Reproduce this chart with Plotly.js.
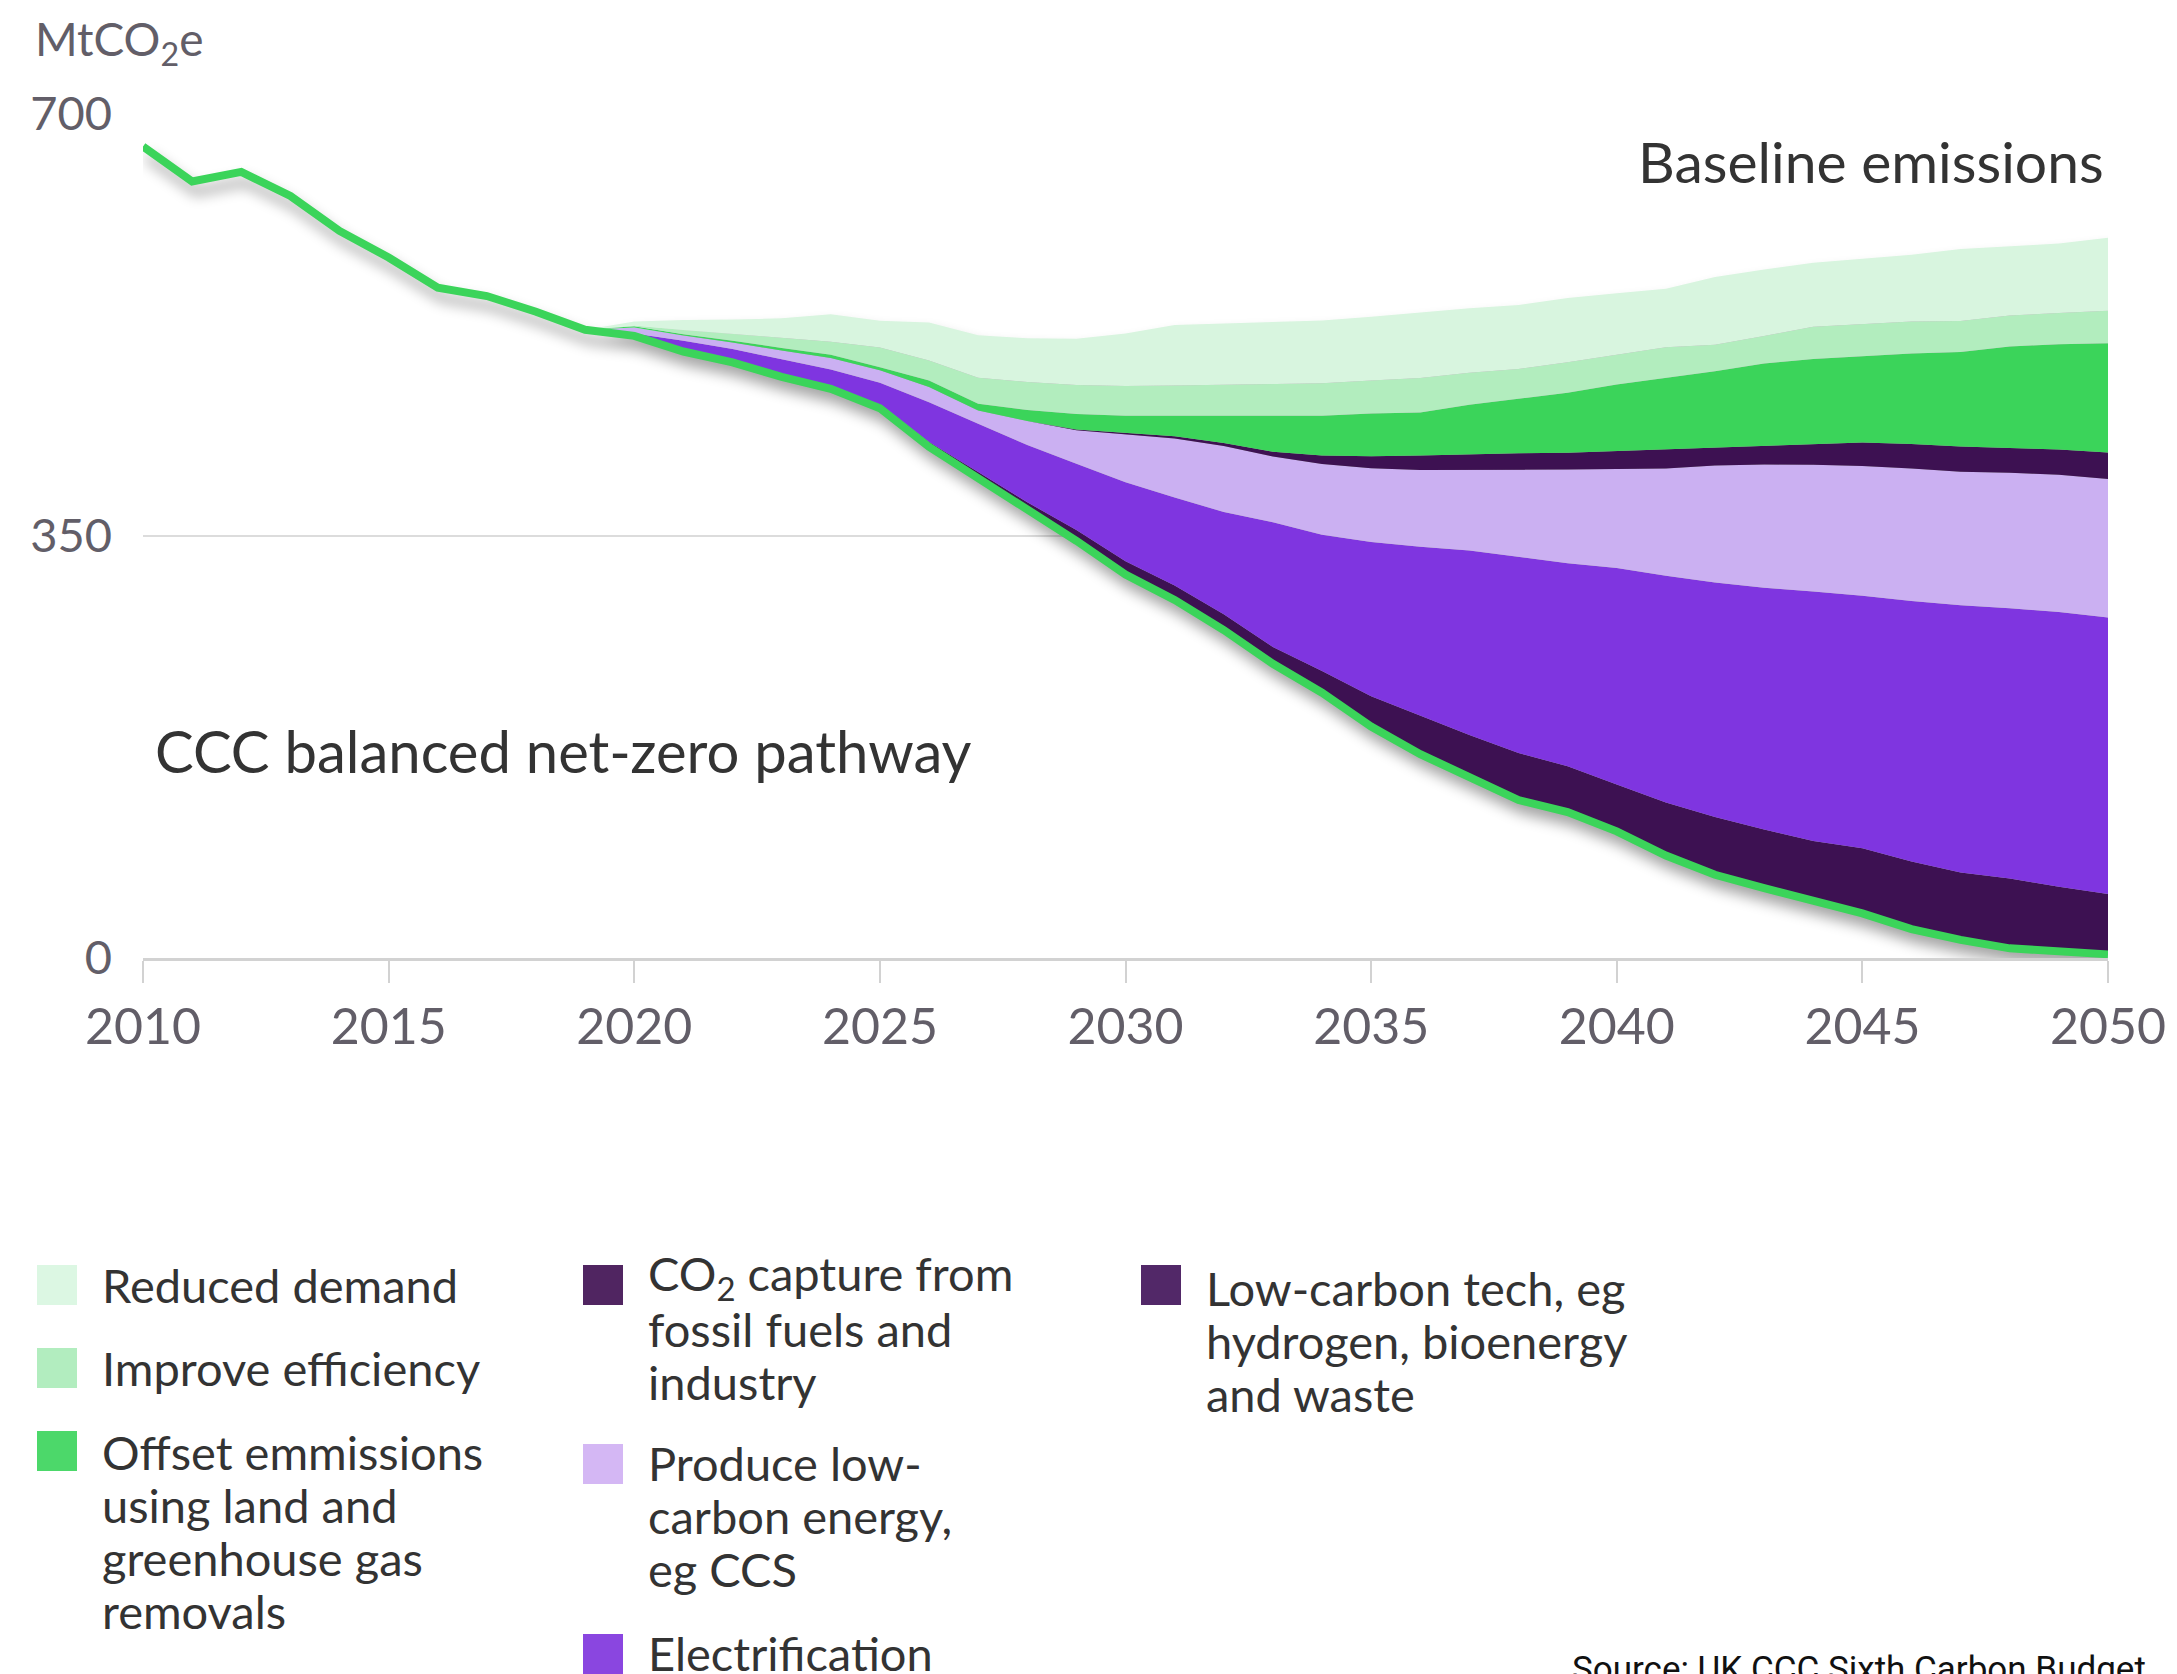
<!DOCTYPE html>
<html>
<head>
<meta charset="utf-8">
<script src="https://cdn.plot.ly/plotly-3.0.1.min.js"></script>
<style>
html,body{margin:0;padding:0;background:#ffffff;overflow:hidden;}
#chart{width:2177px;height:1674px;}
</style>
</head>
<body>
<div id="chart"></div>
<script>
// ---------------- DATA (MtCO2e) ----------------
const histYears = [2010,2011,2012,2013,2014,2015,2016,2017,2018,2019];
const historical = [673,644,652,632,603,581,556,549,536,521];

const years = [2019,2020,2021,2022,2023,2024,2025,2026,2027,2028,2029,2030,2031,2032,2033,2034,
               2035,2036,2037,2038,2039,2040,2041,2042,2043,2044,2045,2046,2047,2048,2049,2050];
// CCC balanced net-zero pathway
const pathway = [521,516,503,494,482,472,456,424,398,372,346,318,297,272,244,220,
                 192,169,150,131,121,105,85,69,58,48,37,24,15,8,5,3];
// abatement wedges, stacked from the pathway upward to the baseline
const lowCarbonTech = [0,1,1.5,2,2,2,3,4,5,6,9,11,12,13,14,18,
                       25,32,35,39,38,39,44,48,48.5,49,54,56,56,58,54,50];
const electrification = [0,1,7.5,9,12.5,14,18,33,40,47.5,55,65.5,73,85,103.5,113,
                         128,140,153,163,168.5,179.5,188,194.5,200.5,207,209.5,216,221.5,224,228,229.5];
const lowCarbonEnergy = [0,5,4.3,5.5,7.3,9.6,10.5,12.6,11,19.8,27.8,39.6,48.8,54.7,54.4,58.8,
                         61.2,63.8,66.8,72.2,77.6,82,89,96.9,102.3,105.1,107.6,109.9,110.8,112.5,113.7,114.7];
const co2Capture = [0,0,0,0,0,0,0,0,0,0,0.5,1.5,2,2.5,4,7,
                    10,12,13,13.5,14,15,15.5,15,15.5,17,19.5,20.5,21,20.5,21,22];
const offsets = [0,1,1,1.5,2.2,2.8,2.5,5.4,5.6,9.1,12.8,14.2,17,22.6,29.9,33,
                 35.4,35.7,41,45.4,49.8,55.2,59.5,63.2,68.2,70.8,71.5,74.9,78.4,84.1,87.4,90.7];
const efficiency = [0,0.5,3.6,5.5,8.2,10.8,16.4,16.5,21.7,23.4,24.1,24.6,25,25.6,26.4,26.9,
                    27.3,28.5,26.6,24.4,25.3,25,25.6,22.1,22.8,26.7,26.7,26.6,25.7,25.8,25.8,27];
const reducedDemand = [0,3.5,8.3,12,16.3,22.8,22.1,31.5,35.2,36.2,38.3,43.6,50.2,50.9,51.3,52.1,
                       53,54.5,53.4,53,53.2,50.7,48.5,56.2,55.3,53,54.2,55.3,59.6,57.5,57.7,60.4];

const xTicks = [2010,2015,2020,2025,2030,2035,2040,2045,2050];
const yTicks = [0,350,700];

const legendLabels = [
  ["Reduced demand"],
  ["Improve efficiency"],
  ["Offset emmissions","using land and","greenhouse gas","removals"],
  ["CO<sub>2</sub> capture from","fossil fuels and","industry"],
  ["Produce low-","carbon energy,","eg CCS"],
  ["Electrification"],
  ["Low-carbon tech, eg","hydrogen, bioenergy","and waste"]
];

// ---------------- STYLE ----------------
const fillColors = {
  lowCarbonTech:'#3d1152', electrification:'#7f35e0', lowCarbonEnergy:'#cbb0f2',
  co2Capture:'#3d1152', offsets:'#3bd45a', efficiency:'#b2edbe', reducedDemand:'#d8f5df'
};
const legendColors = ['#dcf7e3','#b2edbf','#4cd86a','#502561','#d4b7f4','#8a46e0','#522868'];
const lineGreen = '#3bd45a';
const FONT = 'Lato, "Open Sans", sans-serif';

// plot-area pixel frame
const L = 143, R = 2108, T = 114, B = 958;
const px = X => (X - L) / (R - L);
const py = Y => (B - Y) / (B - T);

// ---------------- TRACES ----------------
const stackBase = {x: years, stackgroup: 's', mode: 'lines', line: {width: 0},
                   hoverinfo: 'skip', showlegend: false};
const traces = [
  Object.assign({}, stackBase, {y: pathway, fill: 'none'}),
  Object.assign({}, stackBase, {y: lowCarbonTech, fill: 'tonexty', fillcolor: fillColors.lowCarbonTech}),
  Object.assign({}, stackBase, {y: electrification, fill: 'tonexty', fillcolor: fillColors.electrification}),
  Object.assign({}, stackBase, {y: lowCarbonEnergy, fill: 'tonexty', fillcolor: fillColors.lowCarbonEnergy}),
  Object.assign({}, stackBase, {y: co2Capture, fill: 'tonexty', fillcolor: fillColors.co2Capture}),
  Object.assign({}, stackBase, {y: offsets, fill: 'tonexty', fillcolor: fillColors.offsets}),
  Object.assign({}, stackBase, {y: efficiency, fill: 'tonexty', fillcolor: fillColors.efficiency}),
  Object.assign({}, stackBase, {y: reducedDemand, fill: 'tonexty', fillcolor: fillColors.reducedDemand}),
  {
    x: histYears.concat(years.slice(1)),
    y: historical.concat(pathway.slice(1)),
    mode: 'lines', line: {color: lineGreen, width: 8},
    hoverinfo: 'skip', showlegend: false
  }
];

// ---------------- ANNOTATIONS / LEGEND ----------------
const annotations = [
  {text: 'MtCO<sub>2</sub>e', x: px(33), y: py(42), xanchor: 'left', yanchor: 'middle',
   font: {family: FONT, size: 46, color: '#625e68'}},
  {text: 'Baseline emissions', x: px(2106), y: py(161), xanchor: 'right', yanchor: 'middle',
   font: {family: FONT, size: 57, color: '#333333'}},
  {text: 'CCC balanced net-zero pathway', x: px(153), y: py(750), xanchor: 'left', yanchor: 'middle',
   font: {family: FONT, size: 58, color: '#333333'}},
  {text: 'Source: UK CCC Sixth Carbon Budget', x: px(2148), y: py(1647), xanchor: 'right', yanchor: 'top',
   font: {family: 'Roboto, sans-serif', size: 35, color: '#111111'}}
];

// legend layout (pixel positions): [squareX, squareTop, textX, firstLineY]
const legendPos = [
  [37, 1265, 100, 1285],
  [37, 1348, 100, 1368],
  [37, 1431, 100, 1452],
  [583, 1265, 646, 1276],
  [583, 1444, 646, 1463],
  [583, 1634, 646, 1653],
  [1141, 1265, 1204, 1288]
];
const LINE_H = 53, SQ = 40;
const shapes = [];
legendLabels.forEach((lines, i) => {
  const [sx, sy, tx, ty] = legendPos[i];
  shapes.push({type: 'rect', xref: 'paper', yref: 'paper',
               x0: px(sx), x1: px(sx + SQ), y0: py(sy + SQ), y1: py(sy),
               fillcolor: legendColors[i], line: {width: 0}});
  lines.forEach((t, j) => {
    annotations.push({text: t, x: px(tx), y: py(ty + j * LINE_H), xanchor: 'left', yanchor: 'middle',
                      font: {family: FONT, size: 47, color: '#333333'}});
  });
});
annotations.forEach(a => { a.xref = 'paper'; a.yref = 'paper'; a.showarrow = false; });

const layout = {
  width: 2177, height: 1674,
  margin: {l: L, r: 2177 - R, t: T, b: 1674 - B, pad: 0},
  paper_bgcolor: '#ffffff', plot_bgcolor: '#ffffff',
  showlegend: false, hovermode: false,
  xaxis: {
    range: [2010, 2050], tickmode: 'array', tickvals: xTicks, ticktext: xTicks.map(String),
    ticks: 'outside', ticklen: 22, tickwidth: 2, tickcolor: '#d2d2d2',
    showline: true, linecolor: '#d2d2d2', linewidth: 3,
    showgrid: false, zeroline: false, ticklabelstandoff: 1,
    tickfont: {family: FONT, size: 50, color: '#625e68'}
  },
  yaxis: {
    range: [0, 700], tickmode: 'array', tickvals: yTicks, ticktext: yTicks.map(String),
    ticks: '', showline: false, zeroline: false,
    showgrid: true, gridcolor: '#dcdcdc', gridwidth: 2,
    ticklabelstandoff: 30,
    tickfont: {family: FONT, size: 47, color: '#625e68'}
  },
  annotations: annotations,
  shapes: shapes
};

function addShadow(gd) {
  // soft drop shadow beneath the area stack and the line, as in the reference
  const ns = 'http://www.w3.org/2000/svg';
  const svg = gd.querySelector('svg.main-svg');
  if (!svg || svg.querySelector('#softShadow')) return;
  let defs = svg.querySelector('defs');
  if (!defs) { defs = document.createElementNS(ns, 'defs'); svg.insertBefore(defs, svg.firstChild); }
  const mk = (tag, attrs) => {
    const el = document.createElementNS(ns, tag);
    Object.keys(attrs).forEach(k => el.setAttribute(k, attrs[k]));
    return el;
  };
  const f = mk('filter', {id: 'softShadow', x: '-10%', y: '-10%', width: '130%', height: '140%',
                          'color-interpolation-filters': 'sRGB'});
  f.appendChild(mk('feGaussianBlur', {in: 'SourceAlpha', stdDeviation: '7', result: 'blur'}));
  f.appendChild(mk('feOffset', {in: 'blur', dx: '4', dy: '10', result: 'off'}));
  const ct = mk('feComponentTransfer', {in: 'off', result: 'shadow'});
  ct.appendChild(mk('feFuncA', {type: 'linear', slope: '0.35'}));
  f.appendChild(ct);
  const merge = mk('feMerge', {});
  merge.appendChild(mk('feMergeNode', {in: 'shadow'}));
  merge.appendChild(mk('feMergeNode', {in: 'SourceGraphic'}));
  f.appendChild(merge);
  defs.appendChild(f);
  const layer = gd.querySelector('.scatterlayer');
  if (layer) layer.setAttribute('filter', 'url(#softShadow)');
}

const gdDiv = document.getElementById('chart');
const p = Plotly.newPlot(gdDiv, traces, layout, {staticPlot: true, displayModeBar: false});
addShadow(gdDiv);
if (p && p.then) p.then(addShadow);
</script>
</body>
</html>
